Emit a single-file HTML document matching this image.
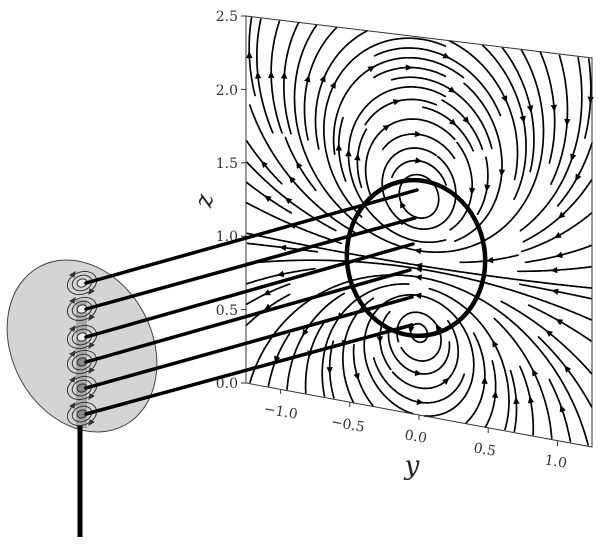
<!DOCTYPE html>
<html><head><meta charset="utf-8"><style>
html,body{margin:0;padding:0;background:#fff;}
svg{display:block;}
.t{font-family:"DejaVu Serif","Liberation Serif",serif;font-size:14px;fill:#333;}
</style></head><body>
<svg id="s" width="600" height="544" viewBox="0 0 600 544" xmlns="http://www.w3.org/2000/svg">
<g id="stream" fill="none" stroke="#000" stroke-width="1.7" stroke-linecap="round"></g>
<g id="arrows" fill="#000"></g>
<polygon points="246,16 592,58 592,447 246,383" fill="none" stroke="#333" stroke-width="1"/>
<g stroke="#333" stroke-width="1">
<line x1="241" y1="16" x2="246" y2="16"/><line x1="241" y1="89.4" x2="246" y2="89.4"/>
<line x1="241" y1="162.8" x2="246" y2="162.8"/><line x1="241" y1="236.2" x2="246" y2="236.2"/>
<line x1="241" y1="309.6" x2="246" y2="309.6"/><line x1="241" y1="383" x2="246" y2="383"/>
<line x1="280.6" y1="389.4" x2="280.6" y2="394"/><line x1="349.8" y1="402.2" x2="349.8" y2="407"/>
<line x1="419" y1="415" x2="419" y2="420"/><line x1="488.2" y1="427.8" x2="488.2" y2="433"/>
<line x1="557.4" y1="440.6" x2="557.4" y2="446"/>
</g>
<g class="t" text-anchor="end">
<text x="238" y="21">2.5</text><text x="238" y="95">2.0</text><text x="238" y="168">1.5</text>
<text x="238" y="241">1.0</text><text x="238" y="315">0.5</text><text x="238" y="388">0.0</text>
</g>
<g class="t" text-anchor="middle">
<text transform="translate(280,416) rotate(10)">−1.0</text>
<text transform="translate(347,429) rotate(10)">−0.5</text>
<text transform="translate(415,441) rotate(10)">0.0</text>
<text transform="translate(484,454) rotate(10)">0.5</text>
<text transform="translate(555,466) rotate(10)">1.0</text>
</g>
<text x="412" y="474" font-family="DejaVu Serif,Liberation Serif,serif" font-style="italic" font-size="26" text-anchor="middle" fill="#222">y</text>
<text transform="translate(212,202) rotate(-80)" font-family="DejaVu Serif,Liberation Serif,serif" font-style="italic" font-size="24" text-anchor="middle" fill="#222">z</text>
<ellipse cx="416" cy="258" rx="69" ry="78" transform="rotate(-8 416 258)" fill="none" stroke="#000" stroke-width="4.5"/>
<ellipse cx="82" cy="346" rx="70" ry="90" transform="rotate(-28 82 346)" fill="#d4d4d4" stroke="#444" stroke-width="1"/>
<rect x="76" y="300" width="11" height="128" fill="#a8a8a8"/>
<line x1="80" y1="425" x2="80" y2="537" stroke="#000" stroke-width="5"/>
<g id="small" fill="none" stroke="#333" stroke-width="1"></g>
<g stroke="#000" stroke-width="3.5" stroke-linecap="round">
<line x1="86" y1="283" x2="417" y2="190"/>
<line x1="86" y1="309" x2="415" y2="218"/>
<line x1="86" y1="337" x2="413" y2="244"/>
<line x1="86" y1="362" x2="410" y2="270"/>
<line x1="86" y1="388" x2="412" y2="297"/>
<line x1="86" y1="414" x2="412" y2="325"/>
</g>
</svg>
<script>
(function(){
var NS="http://www.w3.org/2000/svg";
function map(y,z){var u=(y+1.25)/2.5,v=(2.5-z)/2.5;
 return [246+346*u,(1-u)*(1-v)*16+u*(1-v)*58+(1-u)*v*383+u*v*447];}
function vel(y,z){var dz1=z-1.42,r1=y*y+dz1*dz1+0.003,dz2=z-0.55,r2=y*y+dz2*dz2+0.003;
 var vy=dz1/r1-dz2/r2,vz=-y/r1+y/r2;var m=Math.sqrt(vy*vy+vz*vz)||1;return [vy/m,vz/m];}
var N=38,cell=2.5/N,mask=[];for(var i=0;i<N*N;i++)mask.push(0);
function cellOf(y,z){var cx=Math.floor((y+1.25)/cell),cz=Math.floor(z/cell);
 if(cx<0||cz<0||cx>=N||cz>=N)return -1;return cz*N+cx;}
function integ(y,z,dir,marked,start){var pts=[],cur=start,h=0.012;
 for(var k=0;k<4000;k++){var v=vel(y,z);var ym=y+dir*v[0]*h/2,zm=z+dir*v[1]*h/2;
  var v2=vel(ym,zm);var ny=y+dir*v2[0]*h,nz=z+dir*v2[1]*h;
  var c=cellOf(ny,nz);if(c<0)break;
  if(c!==cur){if(mask[c])break;mask[c]=1;marked.push(c);cur=c;}
  y=ny;z=nz;pts.push([y,z]);}
 return pts;}
var seeds=[];var xf=0,yf=1,xl=N-1,yl=N-1,x=0,y=0,d=0;
for(var i=0;i<N*N;i++){seeds.push([x,y]);
 if(d==0){x++;if(x>=xl){xl--;d=1;}}else if(d==1){y++;if(y>=yl){yl--;d=2;}}
 else if(d==2){x--;if(x<=xf){xf++;d=3;}}else{y--;if(y<=yf){yf++;d=0;}}}
var G=document.getElementById("stream"),A=document.getElementById("arrows");
seeds.forEach(function(s){var c0=s[1]*N+s[0];if(mask[c0])return;
 var sy=-1.25+(s[0]+0.5)*cell+0.003,sz=(s[1]+0.5)*cell;var marked=[c0];mask[c0]=1;
 var b=integ(sy,sz,-1,marked,c0),f=integ(sy,sz,1,marked,c0);
 var pts=b.reverse().concat([[sy,sz]]).concat(f);
 var L=0;for(var i=1;i<pts.length;i++){L+=Math.hypot(pts[i][0]-pts[i-1][0],pts[i][1]-pts[i-1][1]);}
 if(L<0.35){marked.forEach(function(c){mask[c]=0;});return;}
 var sp=pts.map(function(p){return map(p[0],p[1]);});
 var dstr="M"+sp.map(function(p){return p[0].toFixed(1)+","+p[1].toFixed(1);}).join("L");
 var pa=document.createElementNS(NS,"path");pa.setAttribute("d",dstr);G.appendChild(pa);
 var acc=0,mi=1;for(var i=1;i<pts.length;i++){acc+=Math.hypot(pts[i][0]-pts[i-1][0],pts[i][1]-pts[i-1][1]);if(acc>=L/2){mi=i;break;}}
 var p0=sp[Math.max(0,mi-1)],p1=sp[Math.min(sp.length-1,mi+1)];
 var dx=p1[0]-p0[0],dy=p1[1]-p0[1],m=Math.hypot(dx,dy)||1;dx/=m;dy/=m;
 var cx=sp[mi][0],cy=sp[mi][1],s2=7,w=3.2;
 var tri=document.createElementNS(NS,"polygon");
 tri.setAttribute("points",(cx+dx*s2/2)+","+(cy+dy*s2/2)+" "+(cx-dx*s2/2-dy*w)+","+(cy-dy*s2/2+dx*w)+" "+(cx-dx*s2/2+dy*w)+","+(cy-dy*s2/2-dx*w));
 A.appendChild(tri);});
var S=document.getElementById("small");
[283,309,337,362,388,414].forEach(function(cy,i){
 var g="";[[15,11],[10,7.5],[5,4]].forEach(function(r,j){
  g+='<ellipse cx="82" cy="'+cy+'" rx="'+r[0]+'" ry="'+r[1]+'" transform="rotate(-20 82 '+cy+')"'+(j==2?' fill="'+(i<3?'#eee':'#888')+'"':'')+'/>';});
 g+='<polygon points="70,'+(cy-8)+' 75,'+(cy-11)+' 74,'+(cy-6)+'" fill="#333"/>';
 g+='<polygon points="94,'+(cy+8)+' 89,'+(cy+11)+' 90,'+(cy+6)+'" fill="#333"/>';
 S.insertAdjacentHTML("beforeend",g);});
})();
</script>
</body></html>
